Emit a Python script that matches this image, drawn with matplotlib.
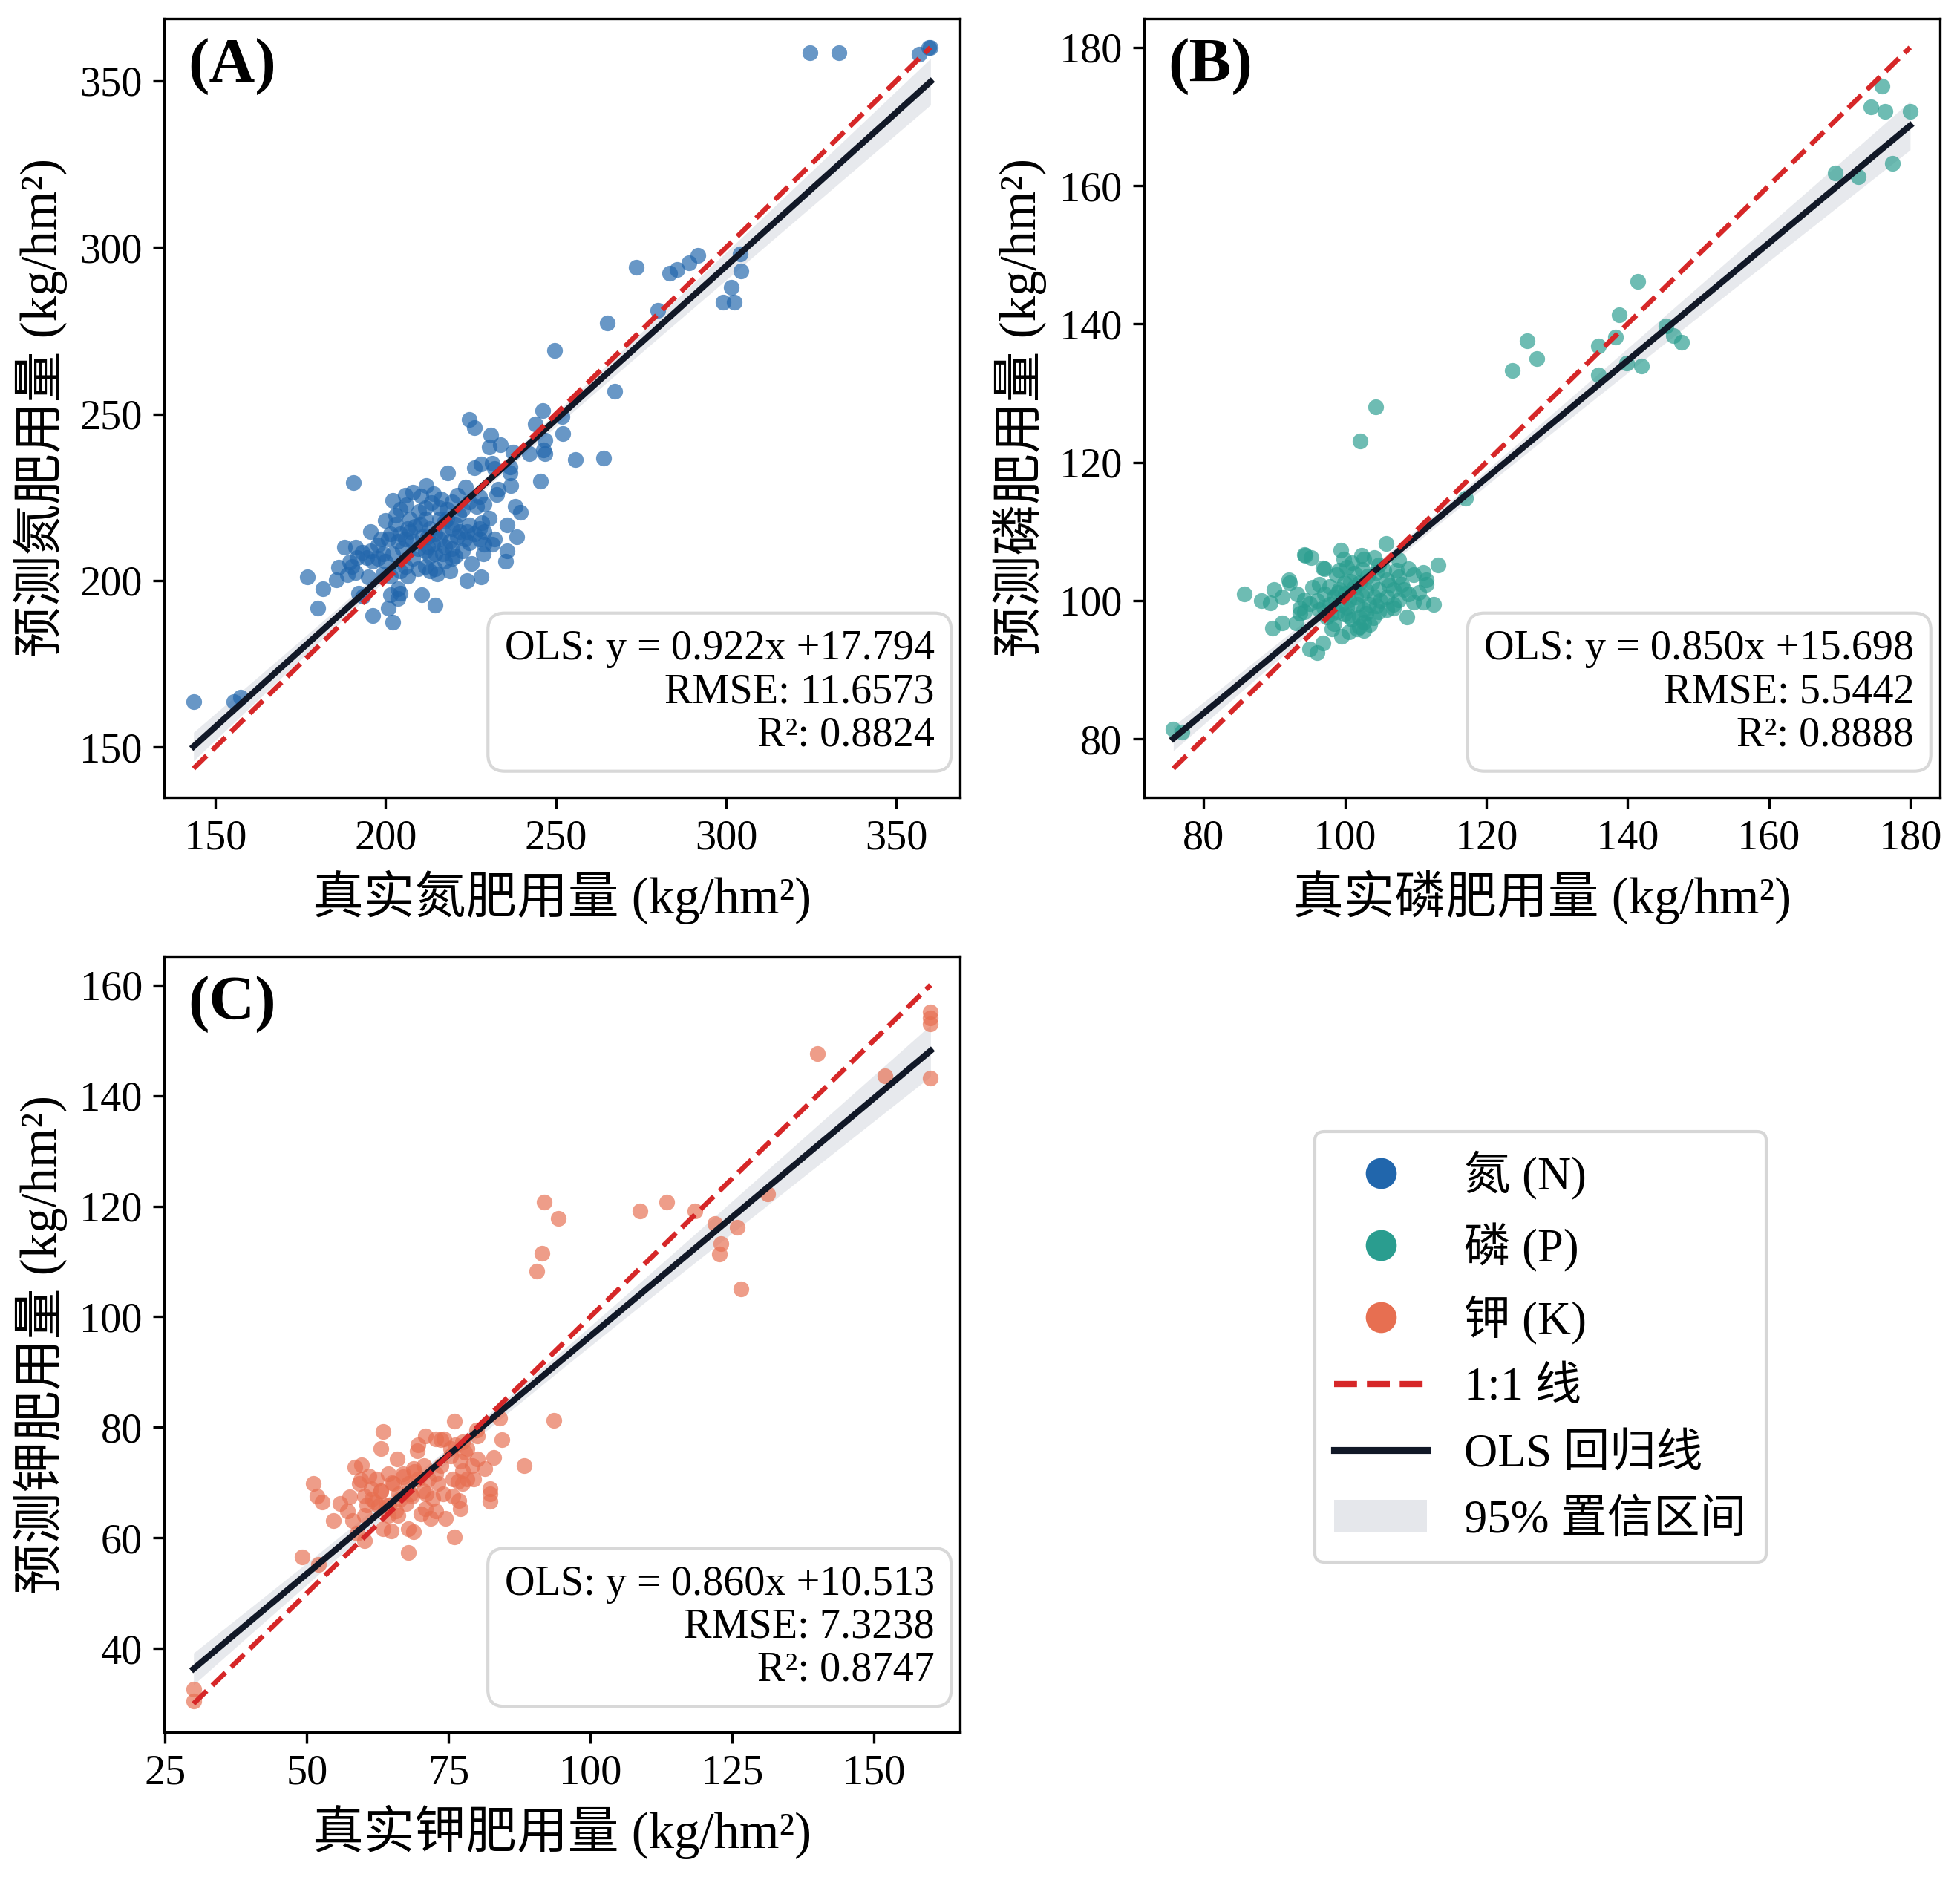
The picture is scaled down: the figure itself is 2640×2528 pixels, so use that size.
import numpy as np
import matplotlib
matplotlib.use('Agg')
import matplotlib.pyplot as plt
from matplotlib.lines import Line2D
from matplotlib.patches import Patch

plt.rcParams['font.family'] = ['Liberation Serif', 'Noto Sans CJK SC']
plt.rcParams['axes.unicode_minus'] = False

# ---------------- 数据 ----------------
# 氮 (N): 真实值, 预测值
n_true = [226.1, 224.6, 230.8, 230.4, 233.6, 243.9, 246.8, 246.8, 246.4, 242.1, 252.1, 255.8, 237.3, 236.6,
          236.6, 236.8, 245.5, 226.0, 228.0, 231.2, 231.9, 218.3, 190.5, 223.5, 233.0, 232.6, 221.0, 227.5,
          229.0, 226.8, 202.1, 205.8, 204.3, 210.3, 213.4, 211.6, 209.8, 215.9, 218.1, 221.4, 222.5, 224.6,
          217.4, 238.1, 239.5, 235.7, 238.4, 235.7, 235.3, 230.4, 228.3, 229.0, 227.5, 224.6, 223.9, 221.7,
          221.0, 223.2, 224.6, 227.5, 229.0, 231.2, 231.9, 228.6, 195.6, 188.0, 191.3, 193.1, 194.5, 195.6,
          197.8, 199.2, 200.7, 202.9, 201.4, 203.6, 205.8, 207.2, 208.7, 210.1, 211.6, 213.0, 214.5, 210.8,
          208.0, 205.0, 202.1, 200.0, 197.8, 196.3, 211.6, 213.8, 215.9, 217.4, 218.8, 219.6, 216.7, 214.5,
          213.0, 211.6, 214.5, 213.0, 217.4, 218.8, 219.6, 215.2, 177.1, 181.5, 180.0, 185.5, 186.2, 190.2,
          191.3, 194.9, 192.0, 193.4, 196.3, 200.7, 202.1, 201.4, 203.6, 204.3, 203.6, 210.5, 214.5, 223.9,
          228.1, 199.2, 201.4, 204.3, 205.8, 218.1, 220.3, 215.9, 207.2, 206.5, 204.3, 209.4, 212.3, 207.9,
          209.4, 206.5, 222.5, 220.3, 225.3, 226.1, 219.6, 216.7, 212.3, 198.5, 191.7, 189.5, 188.7, 203.0,
          199.9, 206.0, 214.0, 216.2, 219.5, 212.0, 208.0,
          143.6, 155.5, 157.5, 324.7, 333.0, 356.6, 359.5, 360.0, 273.6, 283.3, 285.5, 289.1, 291.7, 280.0,
          299.2, 302.3, 301.6, 304.2, 304.4, 265.1, 267.3, 249.7, 246.2, 251.7, 264.0]
n_pred = [245.9, 248.3, 243.7, 240.1, 240.7, 247.0, 242.2, 238.1, 239.2, 238.1, 244.0, 236.2, 238.5, 234.0,
          232.2, 228.5, 229.8, 233.8, 234.9, 235.1, 233.7, 232.2, 229.4, 228.1, 227.4, 225.9, 225.5, 225.1,
          222.9, 222.2, 224.0, 225.7, 221.4, 225.3, 223.3, 221.8, 220.7, 221.8, 221.4, 219.9, 221.4, 223.6,
          217.7, 222.2, 220.5, 216.6, 213.1, 208.9, 205.8, 218.8, 217.3, 214.7, 215.5, 216.6, 214.7, 214.7,
          213.2, 212.5, 211.4, 212.5, 211.0, 211.0, 212.5, 208.0, 214.7, 209.9, 209.9, 208.4, 206.9, 208.8,
          210.6, 208.0, 212.5, 217.0, 214.0, 211.8, 212.5, 214.7, 216.2, 217.0, 218.4, 215.5, 214.0, 213.2,
          211.8, 209.5, 208.0, 205.8, 206.6, 205.8, 208.8, 211.0, 212.5, 210.3, 211.8, 209.5, 208.0, 208.0,
          207.3, 204.3, 203.6, 202.9, 205.8, 202.9, 206.6, 202.1, 201.0, 197.5, 191.7, 200.1, 204.0, 204.3,
          202.5, 201.0, 196.2, 195.4, 189.5, 191.7, 187.6, 195.8, 197.6, 196.2, 194.7, 195.8, 192.6, 199.9,
          201.0, 202.1, 201.4, 202.9, 204.3, 218.4, 217.0, 218.4, 218.4, 215.5, 214.0, 209.5, 210.3, 206.6,
          203.6, 201.4, 209.0, 207.3, 205.0, 214.0, 215.5, 214.7, 213.2, 212.5, 207.0, 205.5, 201.7, 219.5,
          218.0, 222.8, 226.0, 224.4, 223.5, 228.5, 226.5,
          163.7, 163.7, 165.0, 358.5, 358.5, 358.0, 360.0, 360.0, 294.1, 292.3, 293.4, 295.3, 297.6, 281.1,
          283.5, 283.5, 287.9, 298.0, 292.9, 277.4, 256.7, 269.1, 251.0, 249.2, 236.8]

# 磷 (P)
p_true = [75.7, 76.9, 102.1, 104.4, 117.1, 123.7, 125.75, 127.2, 135.9, 135.9, 138.3, 138.8, 139.9, 141.4,
          142.0, 145.4, 146.5, 147.6, 169.4, 172.7, 174.4, 176.0, 176.4, 177.5, 180.0,
          85.7, 88.2, 89.4, 89.9, 91.1, 92.2, 92.0, 89.75, 91.1, 93.1, 93.2, 93.6, 94.3, 95.4, 93.6, 94.3,
          94.3, 95.2, 97.1, 95.0, 96.0, 96.9, 96.4, 97.1, 97.8, 96.4, 97.4, 98.5, 99.5, 100.6, 101.7, 102.7,
          98.8, 99.2, 100.3, 101.3, 99.9, 101.3, 99.2, 98.5, 99.5, 100.6, 101.7, 102.7, 102.0, 101.0, 99.9, 98.9,
          102.7, 104.1, 104.8, 104.5, 105.5, 105.9, 103.8, 104.8, 104.1, 105.9, 103.4, 104.8, 105.9, 106.9,
          107.6, 106.9, 108.0, 107.6, 107.3, 107.6, 109.0, 109.7, 111.1, 111.5, 111.5, 110.4, 109.0, 108.3,
          109.7, 111.1, 112.5, 113.2, 108.8, 106.9, 98.15, 102.7, 102.0,
          99.4, 105.8, 102.4, 96.9, 94.4, 100.0, 100.8, 102.3, 103.0, 101.5, 100.2, 99.0, 103.2, 102.5, 97.8,
          96.0, 95.0, 105.0, 106.2, 104.0, 103.5, 100.5, 98.0, 97.0, 102.0, 101.0, 99.8, 104.5, 103.0]
p_pred = [81.4, 81.0, 123.1, 128.0, 114.8, 133.3, 137.6, 135.0, 136.8, 132.6, 138.1, 141.3, 134.3, 146.2,
          133.9, 139.7, 138.3, 137.4, 161.8, 161.3, 171.4, 174.4, 170.8, 163.2, 170.8,
          100.9, 100.0, 99.7, 101.6, 100.5, 102.5, 103.0, 96.0, 96.75, 96.75, 100.9, 98.9, 100.1, 101.9, 98.2,
          98.4, 106.6, 106.2, 104.6, 93.0, 92.5, 93.9, 102.3, 100.9, 99.4, 98.7, 97.6, 96.6, 94.8, 95.5, 95.85,
          95.7, 103.7, 104.4, 104.8, 103.9, 102.6, 101.9, 101.6, 100.5, 99.4, 100.1, 99.4, 98.7, 97.6, 97.3,
          98.0, 98.4, 106.0, 106.2, 105.15, 104.1, 104.4, 103.0, 102.6, 101.6, 100.5, 100.5, 99.4, 98.4, 98.7,
          99.4, 100.1, 101.6, 102.3, 103.4, 104.4, 105.9, 104.6, 103.7, 104.1, 103.0, 102.3, 101.2, 100.9,
          101.6, 99.8, 99.8, 99.4, 105.15, 97.6, 98.9, 95.85, 96.9, 96.2,
          107.3, 108.2, 106.5, 104.7, 106.5, 101.0, 102.8, 100.8, 101.5, 100.5, 99.0, 101.2, 103.5, 104.5,
          102.0, 100.0, 99.5, 100.0, 102.2, 97.5, 96.5, 97.8, 98.0, 99.0, 102.5, 105.5, 106.0, 99.2, 98.2]

# 钾 (K)
k_true = [63.5, 63.1, 65.9, 69.6, 69.4, 70.9, 72.7, 73.6, 74.2, 75.3, 76.2, 77.5, 78.3, 77.9, 80.1, 84.4,
          58.5, 59.6, 51.1, 51.8, 52.7, 55.9, 57.5, 57.2, 54.6, 58.1, 60.1,
          60.9, 61.4, 62.2, 63.1, 64.4, 65.3, 66.2, 67.0, 67.9, 68.8, 69.6, 70.7, 68.3, 67.5, 65.7, 64.4, 62.7,
          60.1, 59.2, 71.4, 72.7, 73.1, 74.0, 72.25, 70.9, 70.1, 72.7, 71.8, 74.4,
          73.6, 75.3, 77.0, 77.5, 78.3, 79.2, 80.1, 81.4, 82.9, 79.4, 77.5, 76.6, 75.7,
          82.3, 82.3, 82.3, 76.8, 77.0, 75.7, 88.35, 76.0, 67.9, 49.1, 52.0, 60.1, 58.8, 64.85, 67.9, 68.8, 63.5,
          30.0, 30.0, 140.1, 151.9, 160.0, 160.0, 160.0, 160.0, 91.8, 94.4, 91.5, 90.6, 108.7, 113.4, 118.4,
          122.0, 123.0, 122.7, 125.9, 126.6, 131.3, 93.5, 84.0, 76.0, 79.9,
          62.0, 64.0, 66.5, 68.5, 70.5, 65.0, 63.0, 61.5, 67.0, 69.0, 71.0, 66.0, 64.5, 60.5, 59.5]
k_pred = [79.3, 76.15, 74.3, 76.8, 75.7, 78.4, 77.95, 77.7, 77.95, 76.15, 76.8, 77.3, 76.15, 75.5, 78.4, 77.7,
          72.8, 73.2, 69.8, 67.6, 66.5, 66.2, 67.4, 64.9, 63.1, 63.1, 64.0,
          71.2, 68.9, 70.7, 68.5, 71.6, 69.8, 68.0, 71.6, 69.8, 72.5, 70.7, 73.0, 68.0, 66.2, 64.9, 64.0, 65.8,
          67.6, 69.8, 70.7, 71.6, 69.8, 68.0, 67.1, 65.3, 64.4, 64.9, 63.5, 63.5,
          73.0, 74.8, 73.9, 72.1, 70.7, 73.0, 74.3, 72.5, 74.6, 70.7, 69.8, 70.3, 70.7,
          68.9, 68.0, 66.6, 66.7, 65.3, 67.6, 73.1, 60.2, 57.3, 56.5, 55.2, 59.5, 60.8, 61.3, 61.7, 61.1, 61.7,
          32.6, 30.5, 147.6, 143.6, 155.1, 154.05, 153.0, 143.2, 120.8, 117.8, 111.5, 108.2, 119.1, 120.8, 119.1,
          116.8, 113.2, 111.35, 116.2, 105.0, 122.2, 81.3, 81.6, 81.1, 79.5,
          66.5, 66.0, 67.0, 67.5, 68.5, 70.0, 68.5, 67.0, 71.0, 72.0, 68.0, 64.0, 66.0, 66.0, 70.5]

# 图中标注的 OLS 结果: 斜率, 截距, RMSE, R²
n_fit = (0.922, 17.794, 11.6573, 0.8824)
p_fit = (0.850, 15.698, 5.5442, 0.8888)
k_fit = (0.860, 10.513, 7.3238, 0.8747)

n_ticks = [150, 200, 250, 300, 350]
p_ticks = [80, 100, 120, 140, 160, 180]
k_xticks = [25, 50, 75, 100, 125, 150]
k_yticks = [40, 60, 80, 100, 120, 140, 160]

C_N = '#2166ac'
C_P = '#2a9d8f'
C_K = '#e76f51'
C_RED = '#d62728'
C_OLS = '#111827'
C_CI = '#e5e7eb'


def draw_panel(ax, x, y, fit, color, tag, elem, xticks, yticks):
    x = np.asarray(x)
    y = np.asarray(y)
    slope, icpt, rmse, r2 = fit
    lo = min(x.min(), y.min())
    hi = max(x.max(), y.max())
    pad = 0.04 * (hi - lo)

    # 95% 置信区间（解析式）
    xg = np.linspace(x.min(), x.max(), 200)
    yg = slope * xg + icpt
    resid = y - (slope * x + icpt)
    n = len(x)
    s = np.sqrt(np.sum(resid ** 2) / (n - 2))
    sxx = np.sum((x - x.mean()) ** 2)
    se = s * np.sqrt(1 / n + (xg - x.mean()) ** 2 / sxx)
    ax.fill_between(xg, yg - 1.8 * se, yg + 1.8 * se, color=C_CI, alpha=0.9, lw=0, zorder=1)

    ax.scatter(x, y, s=26, color=color, alpha=0.68, linewidths=0, zorder=2)
    ax.plot(xg, yg, color=C_OLS, lw=2.0, zorder=4)
    ax.plot([lo, hi], [lo, hi], color=C_RED, ls='--', lw=1.6, zorder=5)

    ax.set_xlim(lo - pad, hi + pad)
    ax.set_ylim(lo - pad, hi + pad)
    ax.set_xticks(xticks)
    ax.set_yticks(yticks)
    ax.tick_params(labelsize=13.5)
    ax.set_xlabel(f'真实{elem}肥用量 (kg/hm²)', fontsize=16.5)
    ax.set_ylabel(f'预测{elem}肥用量 (kg/hm²)', fontsize=16.5)

    ax.text(0.03, 0.975, tag, transform=ax.transAxes, fontsize=20.5, fontweight='bold',
            ha='left', va='top')
    txt = f'OLS: y = {slope:.3f}x +{icpt:.3f}\nRMSE: {rmse:.4f}\nR²: {r2:.4f}'
    ax.text(0.968, 0.055, txt, transform=ax.transAxes, fontsize=13.5, ha='right', va='bottom',
            multialignment='right', linespacing=1.15, zorder=6,
            bbox=dict(boxstyle='round,pad=0.4', fc='white', ec='#d4d4d4', lw=1.0, alpha=0.9))


fig = plt.figure(figsize=(8.8, 8.4267), dpi=300)
ax_n = fig.add_axes([0.0837, 0.5752, 0.4061, 0.4149])
ax_p = fig.add_axes([0.5836, 0.5752, 0.4060, 0.4149])
ax_k = fig.add_axes([0.0837, 0.0770, 0.4061, 0.4135])

draw_panel(ax_n, n_true, n_pred, n_fit, C_N, '(A)', '氮', n_ticks, n_ticks)
draw_panel(ax_p, p_true, p_pred, p_fit, C_P, '(B)', '磷', p_ticks, p_ticks)
draw_panel(ax_k, k_true, k_pred, k_fit, C_K, '(C)', '钾', k_xticks, k_yticks)

handles = [
    Line2D([], [], marker='o', ls='none', color=C_N, markersize=9),
    Line2D([], [], marker='o', ls='none', color=C_P, markersize=9),
    Line2D([], [], marker='o', ls='none', color=C_K, markersize=9),
    Line2D([], [], color=C_RED, ls='--', lw=2.0),
    Line2D([], [], color=C_OLS, lw=2.2),
    Patch(facecolor=C_CI, edgecolor='none'),
]
labels = ['氮 (N)', '磷 (P)', '钾 (K)', '1:1 线', 'OLS 回归线', '95% 置信区间']
leg = fig.legend(handles, labels, loc='center', bbox_to_anchor=(0.786, 0.2825), fontsize=15,
                 frameon=True, fancybox=True, edgecolor='#cccccc', handlelength=2.0,
                 handletextpad=0.8, labelspacing=0.5, borderpad=0.42)
leg.get_frame().set_linewidth(1.0)

fig.savefig('out.png', dpi=300)
